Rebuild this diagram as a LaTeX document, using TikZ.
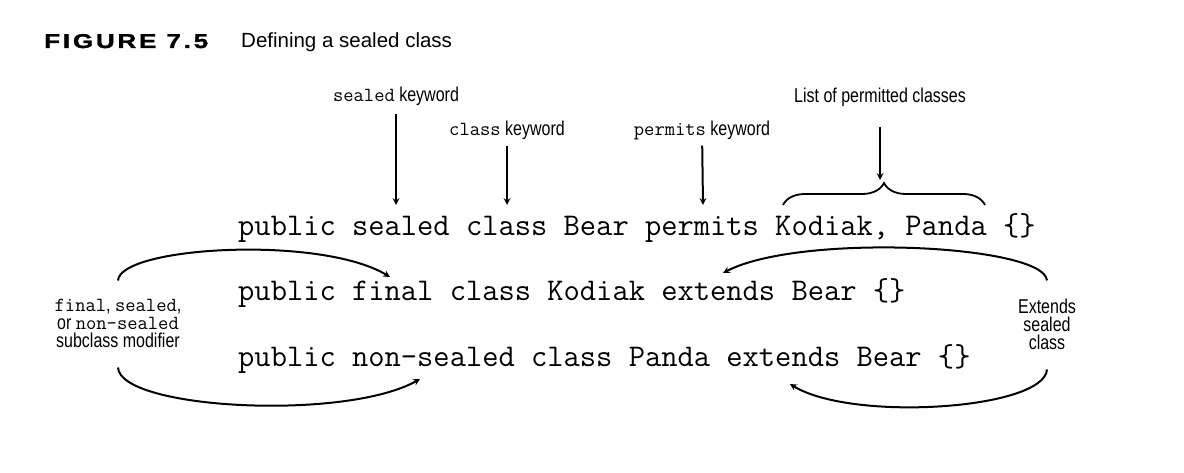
\documentclass[tikz,border=0pt]{standalone}
\usepackage{fontspec}
\usepackage{tikz}
\usetikzlibrary{arrows}
\usetikzlibrary{decorations.pathreplacing}
\newfontfamily\lblfont[FakeStretch=0.8]{Liberation Sans}
\newfontfamily\capfont{Liberation Sans}
\newfontfamily\figfont[FakeStretch=1.3,LetterSpace=14,FakeBold=1.5]{Liberation Sans}
\newcommand{\kw}[1]{{\ttfamily\fontsize{20}{18}\selectfont #1}}

\begin{document}
\begin{tikzpicture}[x=1pt,y=-1pt,
    code/.style={anchor=base west,inner sep=0pt,font=\ttfamily\fontsize{31.6}{36}\selectfont},
    note/.style={align=center,inner sep=0pt,font=\lblfont\fontsize{20}{18}\selectfont},
    arr/.style={line width=2pt,-stealth}]
  \useasboundingbox (0,0) rectangle (1184,473);

  \node[anchor=base west,inner sep=0pt,font=\figfont\bfseries\fontsize{20}{20}\selectfont] (fig) at (44,48) {FIGURE 7.5};
  \node[anchor=base west,inner sep=0pt,font=\capfont\fontsize{20.5}{20}\selectfont] (cap) at (241,48) {Defining a sealed class};

  % the three code lines
  \node[code] (bear) at (238,236) {public sealed class Bear permits Kodiak, Panda \{\}};
  \node[code] (kodiak) at (238,301) {public final class Kodiak extends Bear \{\}};
  \node[code] (panda) at (238,366) {public non-sealed class Panda extends Bear \{\}};

  % labels
  \node[note] (lblsealed) at (396,96) {\kw{sealed} keyword};
  \node[note] (lblclass) at (507,130) {\kw{class} keyword};
  \node[note] (lblpermits) at (702,130) {\kw{permits} keyword};
  \node[note] (lbllist) at (880,97) {List of permitted classes};
  \node[note] (lblmod) at (118,323) {\kw{final}, \kw{sealed},\\ or \kw{non-sealed}\\ subclass modifier};
  \node[note] (lblext) at (1047,324) {Extends\\ sealed\\ class};

  % arrow tips on the code
  \coordinate (tipsealed) at (396,205);
  \coordinate (tipclass) at (507,205);
  \coordinate (tippermits) at (703,205);
  \coordinate (brtip) at (880,180);
  \coordinate (kodiaktip) at (390,277);
  \coordinate (pandatip) at (420,379);
  \coordinate (extkodiak) at (723,273);
  \coordinate (extpanda) at (790,384);

  \draw[arr,shorten <=8pt] (lblsealed) -- (tipsealed);
  \draw[arr,shorten <=6pt] (lblclass) -- (tipclass);
  \draw[arr,shorten <=6pt] (lblpermits) -- (tippermits);
  \draw[arr,shorten <=20pt] (lbllist) -- (lbllist |- brtip);

  \draw[line width=1.8pt,decorate,decoration={brace,amplitude=22pt}] (783,205) -- (985,205);

  \draw[arr] ([yshift=18pt]lblmod.north) .. controls +(2,-34) and +(-70,-42) .. (kodiaktip);
  \draw[arr] ([yshift=-20pt]lblmod.south) .. controls +(2,42) and +(-75,42) .. (pandatip);
  \draw[arr] ([yshift=18pt]lblext.north) .. controls +(-3,-36) and +(77,-40) .. (extkodiak);
  \draw[arr] ([yshift=-20pt]lblext.south) .. controls +(-3,40) and +(62,38) .. (extpanda);
\end{tikzpicture}
\end{document}
